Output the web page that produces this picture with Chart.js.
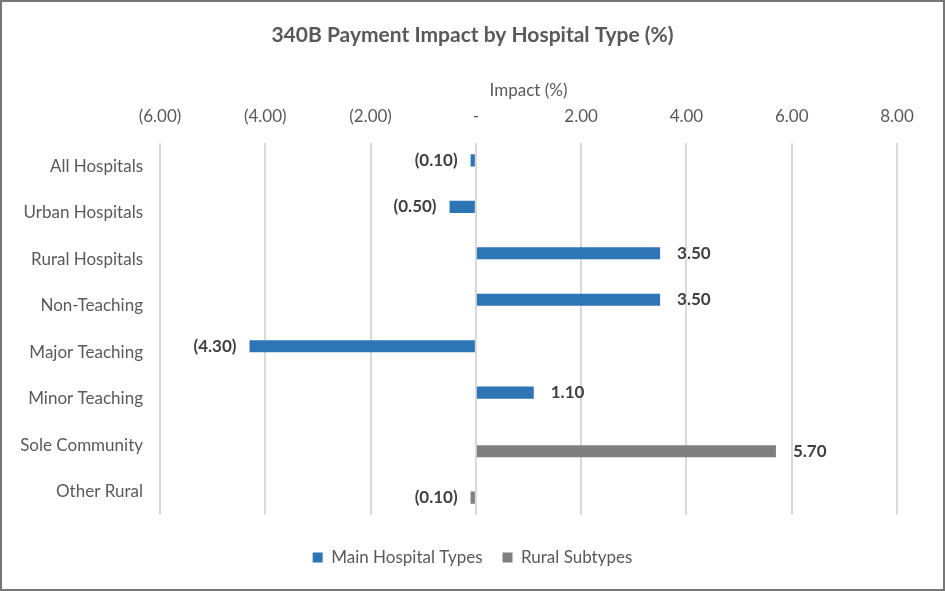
<!DOCTYPE html>
<html>
<head>
<meta charset="utf-8">
<script src="https://cdn.jsdelivr.net/npm/chart.js@4/dist/chart.umd.min.js"></script>
<style>
  html, body { margin: 0; padding: 0; background: #fff; }
  canvas { display: block; }
</style>
</head>
<body>
<canvas id="impact" width="945" height="591"></canvas>
<script>
const categories = [
  "All Hospitals", "Urban Hospitals", "Rural Hospitals", "Non-Teaching",
  "Major Teaching", "Minor Teaching", "Sole Community", "Other Rural"
];
const mainTypes = [-0.1, -0.5, 3.5, 3.5, -4.3, 1.1, null, null];
const ruralSubtypes = [null, null, null, null, null, null, 5.7, -0.1];
const xMin = -6;
const xMax = 8;
const xStep = 2;

// (1.00) for negatives, "-" for zero, like the accounting format
function fmt(v) {
  if (v === 0) return "-";
  if (v < 0) return "(" + Math.abs(v).toFixed(2) + ")";
  return v.toFixed(2);
}

// white background + outer border
const frame = {
  id: "frame",
  beforeDraw(chart) {
    const { ctx, width, height } = chart;
    ctx.save();
    ctx.fillStyle = "#fff";
    ctx.fillRect(0, 0, width, height);
    ctx.restore();
  },
  afterDraw(chart) {
    const { ctx, width, height } = chart;
    ctx.save();
    ctx.strokeStyle = "#767676";
    ctx.lineWidth = 2;
    ctx.strokeRect(1, 1, width - 2, height - 2);
    ctx.restore();
  },
};

// value labels next to the bar ends
const barLabels = {
  id: "barLabels",
  afterDatasetsDraw(chart) {
    const ctx = chart.ctx;
    ctx.save();
    ctx.font = "bold 17px Lato";
    ctx.fillStyle = "#404040";
    ctx.textBaseline = "middle";
    chart.data.datasets.forEach((ds, i) => {
      chart.getDatasetMeta(i).data.forEach((bar, j) => {
        const v = ds.data[j];
        if (v === null || v === undefined) return;
        if (v < 0) {
          ctx.textAlign = "right";
          ctx.fillText(fmt(v), bar.x - 13, bar.y);
        } else {
          ctx.textAlign = "left";
          ctx.fillText(fmt(v), bar.x + 17, bar.y);
        }
      });
    });
    ctx.restore();
  },
};

const ctx = document.getElementById("impact");

new Chart(ctx, {
  type: "bar",
  data: {
    labels: categories,
    datasets: [
      {
        label: "Main Hospital Types",
        data: mainTypes,
        backgroundColor: "#2E75B6",
        categoryPercentage: 0.52,
        barPercentage: 1,
      },
      {
        label: "Rural Subtypes",
        data: ruralSubtypes,
        backgroundColor: "#7F7F7F",
        categoryPercentage: 0.52,
        barPercentage: 1,
      },
    ],
  },
  options: {
    indexAxis: "y",
    responsive: false,
    animation: false,
    devicePixelRatio: 1,
    layout: { padding: { left: 0, right: 0, top: 0, bottom: 15 } },
    plugins: {
      title: {
        display: true,
        text: "340B Payment Impact by Hospital Type (%)",
        color: "#595959",
        font: { family: "Lato", size: 21, weight: "bold" },
        padding: { top: 23, bottom: 32 },
      },
      legend: {
        position: "bottom",
        title: {
          display: true,
          text: "",
          font: { size: 1 },
          padding: { top: 13, bottom: 0 },
        },
        labels: {
          color: "#595959",
          font: { family: "Lato", size: 17 },
          boxWidth: 10,
          boxHeight: 10,
          padding: 20,
        },
      },
      tooltip: { enabled: false },
    },
    scales: {
      x: {
        position: "top",
        min: xMin,
        max: xMax,
        ticks: {
          stepSize: xStep,
          padding: 16,
          color: "#595959",
          font: { family: "Lato", size: 17 },
          callback: (value) => fmt(value),
        },
        grid: { color: "#D9D9D9", lineWidth: 2, drawTicks: false },
        border: { display: false },
        title: {
          display: true,
          text: "Impact (%)",
          color: "#595959",
          font: { family: "Lato", size: 17 },
          padding: { top: 0, bottom: 8 },
        },
        afterFit: (scale) => {
          scale.height = 63;
        },
      },
      y: {
        grid: { display: false, drawTicks: false },
        border: { display: false },
        ticks: {
          padding: 17,
          color: "#595959",
          font: { family: "Lato", size: 17 },
        },
        afterFit: (scale) => {
          scale.width = 160;
        },
      },
      // empty right-hand axis, only keeps space so title and legend stay centred on the page
      yRight: {
        type: "category",
        position: "right",
        grid: { display: false, drawTicks: false },
        border: { display: false },
        ticks: { display: false },
        afterFit: (scale) => {
          scale.width = 48;
        },
      },
    },
  },
  plugins: [frame, barLabels],
});
</script>
</body>
</html>
